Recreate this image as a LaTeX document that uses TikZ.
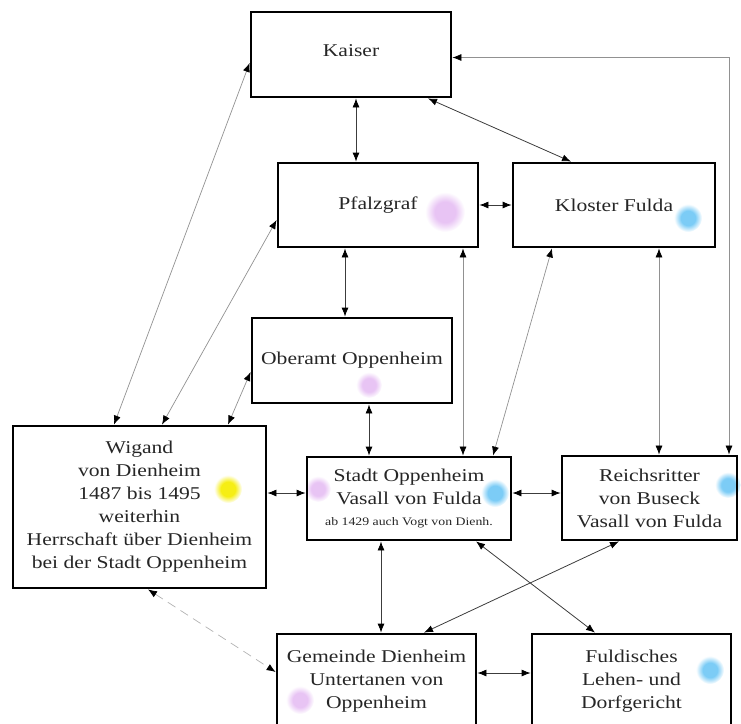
\documentclass[tikz,border=0pt]{standalone}
\usepackage{fontspec}
\setmainfont{Liberation Serif}[FakeStretch=1.2]
\usetikzlibrary{arrows.meta}
\usetikzlibrary{calc}
\definecolor{dotpink}{RGB}{232,196,244}
\definecolor{dotblue}{RGB}{124,204,246}
\definecolor{dotyellow}{RGB}{246,238,20}
\definecolor{linegray}{RGB}{60,60,60}
\definecolor{paleline}{RGB}{145,145,145}
\colorlet{blobcolor}{dotpink}
\pgfdeclareradialshading[blobcolor]{blob}{\pgfpointorigin}{color(0bp)=(blobcolor); color(13bp)=(blobcolor); color(25bp)=(white); color(50bp)=(white)}

\begin{document}
\begin{tikzpicture}[x=1pt,y=-1pt,>={Latex[length=9pt,width=7pt,color=black]},
  box/.style={draw,line width=2.8pt,inner sep=0pt,align=center,text=black!85,font=\fontsize{18}{23}\selectfont},
  link/.style={<->,linegray,line width=0.8pt},
  thinlink/.style={<->,paleline,line width=0.7pt},
  ]
\useasboundingbox (0,0) rectangle (741,723);
\clip (0,0) rectangle (741,723);
%% coloured marks
\colorlet{blobcolor}{dotpink}
\shade[shading=blob] (445,212) circle (20);
\shade[shading=blob] (369,385) circle (13);
\shade[shading=blob] (318,489) circle (13);
\shade[shading=blob] (300,700) circle (14);
\colorlet{blobcolor}{dotblue}
\shade[shading=blob] (688,218) circle (14);
\shade[shading=blob] (495,493) circle (14);
\shade[shading=blob] (728,485) circle (13);
\shade[shading=blob] (710,670) circle (14);
\colorlet{blobcolor}{dotyellow}
\shade[shading=blob] (228,489) circle (14);
%% boxes
\node (node_kaiser) at (351,54.5) [box,minimum width=200,minimum height=85] {\raisebox{7pt}{Kaiser}};
\node (node_pfalz) at (378,205) [box,minimum width=200,minimum height=84] {Pfalzgraf};
\node (node_kloster) at (614,205) [box,minimum width=202,minimum height=84] {Kloster Fulda};
\node (node_oberamt) at (352,360.5) [box,minimum width=200,minimum height=85] {\raisebox{3pt}{Oberamt Oppenheim}};
\node (node_wigand) at (139.5,507) [box,minimum width=253,minimum height=162] {Wigand\\von Dienheim\\1487 bis 1495\\weiterhin\\Herrschaft über Dienheim\\bei der Stadt Oppenheim};
\node (node_stadt) at (409,498.5) [box,minimum width=204,minimum height=83] {Stadt Oppenheim\\Vasall von Fulda\\[-2pt]{\fontsize{11.5}{14}\selectfont ab 1429 auch Vogt von Dienh.}};
\node (node_reich) at (649.5,498) [box,minimum width=175,minimum height=84] {Reichsritter\\von Buseck\\Vasall von Fulda};
\node (node_gemeinde) at (376.5,681) [box,minimum width=199,minimum height=94] {Gemeinde Dienheim\\Untertanen von\\Oppenheim};
\node (node_fuld) at (631.5,681) [box,minimum width=199,minimum height=94] {Fuldisches\\Lehen- und\\Dorfgericht};
%% connections
\draw [link] ($(node_kaiser.south)+(5,0)$) -- ($(node_pfalz.north)+(-22,0)$);
\draw [link] ($(node_kaiser.south)+(77,0)$) -- ($(node_kloster.north)+(-43,0)$);
\draw [link] (node_pfalz.east) -- (node_kloster.west);
\draw [thinlink] ($(node_kaiser.east)+(0,3)$) -| ($(node_reich.north)+(79.5,0)$);
\draw [thinlink] ($(node_kaiser.west)+(0,8.5)$) -- ($(node_wigand.north)+(-25.5,0)$);
\draw [thinlink] ($(node_pfalz.west)+(0,15)$) -- ($(node_wigand.north)+(22.5,0)$);
\draw [thinlink] ($(node_oberamt.west)+(0,11.5)$) -- ($(node_wigand.north)+(88.5,0)$);
\draw [link] ($(node_pfalz.south)+(-33,0)$) -- ($(node_oberamt.north)+(-7,0)$);
\draw [link] ($(node_oberamt.south)+(17,0)$) -- ($(node_stadt.north)+(-40,0)$);
\draw [thinlink] ($(node_pfalz.south)+(85,0)$) -- ($(node_stadt.north)+(54,0)$);
\draw [thinlink] ($(node_kloster.south)+(-62,0)$) -- ($(node_stadt.north)+(84,0)$);
\draw [thinlink] ($(node_kloster.south)+(45,0)$) -- ($(node_reich.north)+(9.5,0)$);
\draw [link] ($(node_wigand.east)+(0,-14)$) -- ($(node_stadt.west)+(0,-5.5)$);
\draw [link] ($(node_stadt.east)+(0,-5.5)$) -- ($(node_reich.west)+(0,-5)$);
\draw [link] ($(node_stadt.south)+(-28,0)$) -- ($(node_gemeinde.north)+(4.5,0)$);
\draw [link] ($(node_stadt.south)+(67,0)$) -- ($(node_fuld.north)+(-36.5,0)$);
\draw [link] ($(node_reich.south)+(-30.5,0)$) -- ($(node_gemeinde.north)+(47.5,0)$);
\draw [thinlink,dash pattern=on 9pt off 6pt,paleline!70] ($(node_wigand.south)+(8.5,0)$) -- ($(node_gemeinde.west)+(0,-9)$);
\draw [link] ($(node_gemeinde.east)+(0,-8)$) -- ($(node_fuld.west)+(0,-8)$);
%
\end{tikzpicture}
\end{document}
